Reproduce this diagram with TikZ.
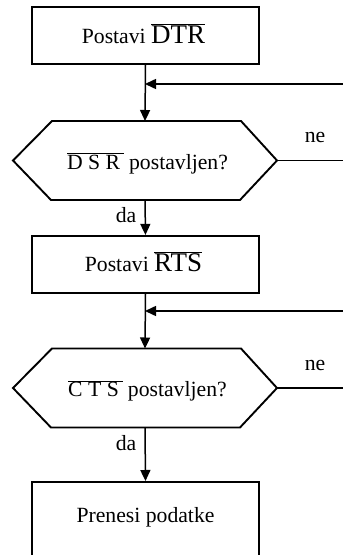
\documentclass[tikz,border=0pt]{standalone}
\usepackage{fontspec}
\setmainfont{Liberation Serif}
\usetikzlibrary{arrows.meta,calc}

\newcommand{\ovl}[1]{$\overline{\mbox{#1}}$}

\begin{document}
\begin{tikzpicture}[x=1pt,y=-1pt,
  txt/.style={font=\fontsize{21.7}{25}\selectfont, inner sep=0pt},
  procbox/.style={draw, line width=2.2pt, minimum width=227pt, minimum height=57pt,
    inner sep=0pt},
  hexline/.style={line width=1.9pt, line join=miter},
  flow/.style={line width=1.5pt, -{Triangle[length=11pt,width=10pt]}},
  plain/.style={line width=1.5pt}]

  \useasboundingbox (0,0) rectangle (343,555);
  \clip (0,0) rectangle (343,555);

  % process boxes
  \node[procbox] (b1) at (145.5,35.5) {};
  \node[txt] at (143.5,34) {Postavi {\fontsize{27}{30}\selectfont\ovl{DTR}}};

  \node[procbox] (b2) at (145.5,264.5) {};
  \node[txt] at (143.5,262) {Postavi {\fontsize{27}{30}\selectfont\ovl{RTS}}};

  \node[procbox, minimum height=80pt, anchor=north] (b3) at (145.5,481) {};
  \node[txt] at (145.5,517) {Prenesi podatke};

  % decision hexagons
  \foreach \n/\cy in {q1/160.5, q2/388} {
    \coordinate (\n) at (145,\cy);
    \coordinate (\n t) at (145,\cy-39.5);
    \coordinate (\n b) at (145,\cy+39.5);
    \coordinate (\n r) at (277,\cy);
    \draw[hexline] (13,\cy) -- (52,\cy-39.5) -- (241,\cy-39.5) -- (\n r)
      -- (240,\cy+39.5) -- (51,\cy+39.5) -- cycle;
  }
  \node[txt] at ($(q1)+(2.5,3)$) {\ovl{D S R\,}\ postavljen?};
  \node[txt] at ($(q2)+(2.5,3)$) {\ovl{C T S\,}\ postavljen?};

  % loop-back entries from the right
  \coordinate (j1) at (145,84);
  \coordinate (j2) at (145,311);
  \coordinate (e1) at (343,84);
  \coordinate (e2) at (343,311);
  \coordinate (n1) at (343,160.5);
  \coordinate (n2) at (343,388);

  % connectors
  \draw[flow] (b1.south) -- (q1t);
  \draw[flow] (e1) -- (j1);
  \draw[flow] (q1b) -- (b2.north);
  \draw[flow] (b2.south) -- (q2t);
  \draw[flow] (e2) -- (j2);
  \draw[flow] (q2b) -- (b3.north);
  \draw[plain] (q1r) -- (n1);
  \draw[plain] (q2r) -- (n2);

  % branch labels
  \node[txt] at (315,137) {ne};
  \node[txt] at (315,365) {ne};
  \node[txt] at (126,215) {da};
  \node[txt] at (126,443) {da};
\end{tikzpicture}
\end{document}
